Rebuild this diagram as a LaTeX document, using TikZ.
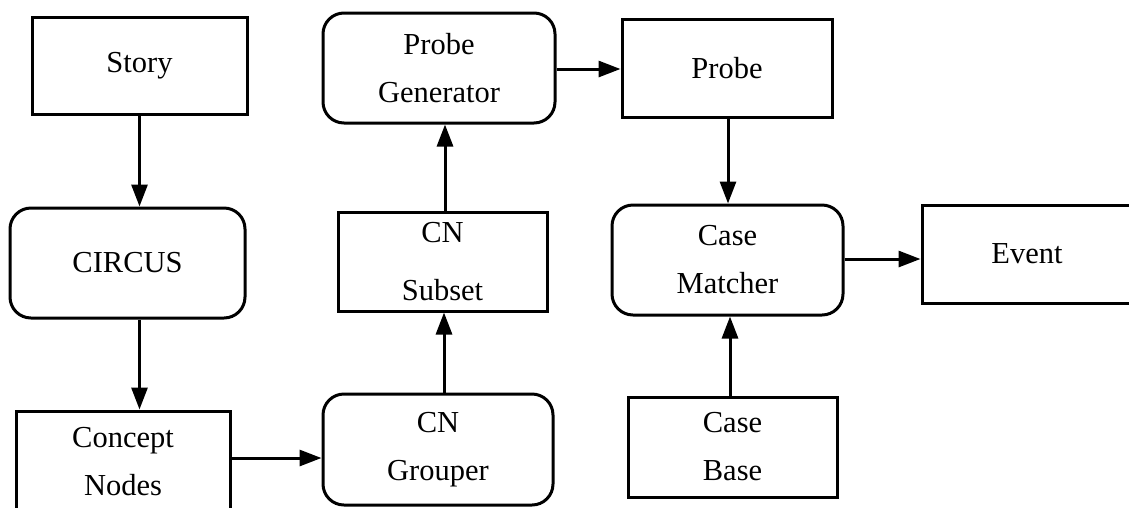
\documentclass[tikz,border=0pt]{standalone}
\usepackage{fontspec}
\setmainfont{Liberation Serif}
\usetikzlibrary{arrows.meta}
\begin{document}
\begin{tikzpicture}[x=1pt,y=-1pt,
  box/.style={draw,line width=3pt,inner sep=0pt,align=center,
    font=\fontsize{30.5}{48}\selectfont},
  sqbox/.style={box},
  rbox/.style={box,rounded corners=21pt},
  arr/.style={line width=3pt,-{Triangle[length=22pt,width=16pt]}}]
\useasboundingbox (0,0) rectangle (1129,507);

% left column
\node[sqbox,minimum width=215pt,minimum height=97pt]  (story)   at (139.5,65.5) {Story};
\node[rbox, minimum width=235pt,minimum height=110pt] (circus)  at (127.5,263)  {CIRCUS};
\node[sqbox,minimum width=214pt,minimum height=101pt] (concept) at (123,461.5)  {Concept\\Nodes};

% middle column
\node[rbox, minimum width=232pt,minimum height=110pt] (probegen) at (439,68)     {Probe\\Generator};
\node[sqbox,minimum width=209pt,minimum height=99pt]  (subset)   at (442.5,261.5){CN\\[10pt]Subset};
\node[rbox, minimum width=230pt,minimum height=111pt] (grouper)  at (438,449.5)  {CN\\Grouper};

% right columns
\node[sqbox,minimum width=210pt,minimum height=98pt]  (probe)    at (727,68)     {Probe};
\node[rbox, minimum width=231pt,minimum height=110pt] (matcher)  at (727.5,260)  {Case\\Matcher};
\node[sqbox,minimum width=209pt,minimum height=100pt] (casebase) at (732.5,447)  {Case\\Base};
\node[sqbox,minimum width=210pt,minimum height=98pt]  (event)    at (1027,254)   {Event};

% connectors
\draw[arr] (story.south) -- (story.south |- circus.north);
\draw[arr] (story.south |- circus.south) -- (story.south |- concept.north);
\draw[arr] (concept.east |- 0,458) -- (grouper.west |- 0,458);
\draw[arr] (444,0 |- grouper.north) -- (444,0 |- subset.south);
\draw[arr] (445,0 |- subset.north) -- (445,0 |- probegen.south);
\draw[arr] (probegen.east |- 0,69) -- (probe.west |- 0,69);
\draw[arr] (728,0 |- probe.south) -- (728,0 |- matcher.north);
\draw[arr] (730,0 |- casebase.north) -- (730,0 |- matcher.south);
\draw[arr] (matcher.east |- 0,259) -- (event.west |- 0,259);
\end{tikzpicture}
\end{document}
